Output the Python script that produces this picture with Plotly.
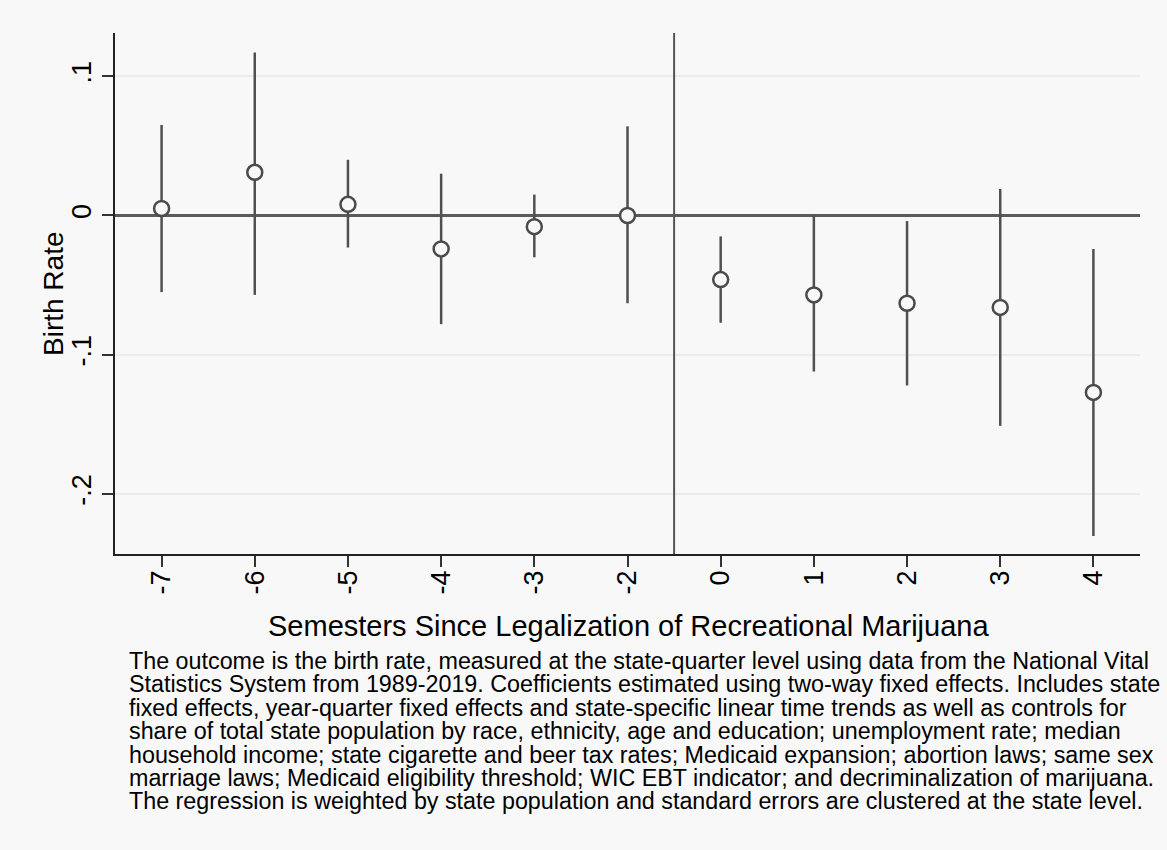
import plotly.graph_objects as go

# Event-study estimates: birth rate relative to legalization of recreational marijuana
semesters = ["-7", "-6", "-5", "-4", "-3", "-2", "0", "1", "2", "3", "4"]
coef = [0.005, 0.031, 0.008, -0.024, -0.008, 0.000, -0.046, -0.057, -0.063, -0.066, -0.127]
ci_low = [-0.055, -0.057, -0.023, -0.078, -0.030, -0.063, -0.077, -0.112, -0.122, -0.151, -0.230]
ci_high = [0.065, 0.117, 0.040, 0.030, 0.015, 0.064, -0.015, 0.000, -0.004, 0.019, -0.024]

y_tickvals = [-0.2, -0.1, 0, 0.1]
y_ticktext = ["-.2", "-.1", "0", ".1"]

note_lines = [
    "The outcome is the birth rate, measured at the state-quarter level using data from the National Vital",
    "Statistics System from 1989-2019. Coefficients estimated using two-way fixed effects. Includes state",
    "fixed effects, year-quarter fixed effects and state-specific linear time trends as well as controls for",
    "share of total state population by race, ethnicity, age and education; unemployment rate; median",
    "household income; state cigarette and beer tax rates; Medicaid expansion; abortion laws; same sex",
    "marriage laws; Medicaid eligibility threshold; WIC EBT indicator; and decriminalization of marijuana.",
    "The regression is weighted by state population and standard errors are clustered at the state level.",
]

FONT = "Liberation Sans, Arial, Helvetica, sans-serif"
BG = "#f8f8f8"
INK = "#4a4a4a"

W, H = 1167, 850
M_L, M_R, M_T, M_B = 115, 27, 33, 296
PLOT_W = W - M_L - M_R
PLOT_H = H - M_T - M_B


def px_x(x):
    return (x - M_L) / PLOT_W


def px_y(y):
    return (H - M_B - y) / PLOT_H


err_plus = [h - c for h, c in zip(ci_high, coef)]
err_minus = [c - l for c, l in zip(coef, ci_low)]

fig = go.Figure()
fig.add_trace(go.Scatter(
    x=semesters,
    y=coef,
    mode="markers",
    marker=dict(size=15, color=BG, line=dict(color=INK, width=2.5)),
    error_y=dict(type="data", array=err_plus, arrayminus=err_minus,
                 symmetric=False, color="#505050", thickness=2.5, width=0),
    showlegend=False,
    hoverinfo="skip",
))

# Vertical separator between pre- and post-legalization periods
fig.add_shape(type="line", xref="x", yref="paper", x0=5.5, x1=5.5, y0=0, y1=1,
              line=dict(color="#555555", width=2), layer="above")

fig.update_xaxes(
    type="category",
    range=[-0.5, 10.5],
    showline=True, linecolor="#222222", linewidth=1.5,
    ticks="outside", ticklen=11, tickwidth=1.5, tickcolor="#333333",
    tickangle=-90, ticklabelstandoff=-7,
    tickfont=dict(family=FONT, size=27, color="#000000"),
    showgrid=False, zeroline=False,
)
fig.update_yaxes(
    range=[-0.243, 0.131],
    tickvals=y_tickvals, ticktext=y_ticktext,
    tickangle=-90,
    showline=True, linecolor="#222222", linewidth=1.5,
    ticks="outside", ticklen=11, tickwidth=1.5, tickcolor="#333333",
    tickfont=dict(family=FONT, size=27, color="#000000"),
    showgrid=True, gridcolor="#ececec", gridwidth=1.5,
    zeroline=True, zerolinecolor="#5a5a5a", zerolinewidth=2.5,
)

annotations = [
    dict(text="Birth Rate", xref="paper", yref="paper",
         x=px_x(53), y=px_y(294), textangle=-90, showarrow=False,
         xanchor="center", yanchor="middle",
         font=dict(family=FONT, size=28, color="#000000")),
    dict(text="Semesters Since Legalization of Recreational Marijuana",
         xref="paper", yref="paper", x=px_x(628), y=px_y(626), showarrow=False,
         xanchor="center", yanchor="middle",
         font=dict(family=FONT, size=29, color="#000000")),
]

first_baseline = 669
line_step = 23.4
for i, line in enumerate(note_lines):
    annotations.append(dict(
        text=line, xref="paper", yref="paper",
        x=px_x(127), y=px_y(first_baseline + i * line_step - 8),
        xanchor="left", yanchor="middle", showarrow=False, align="left",
        font=dict(family=FONT, size=23.3, color="#000000"),
    ))

fig.update_layout(
    width=W, height=H,
    margin=dict(l=M_L, r=M_R, t=M_T, b=M_B, autoexpand=False),
    paper_bgcolor=BG, plot_bgcolor=BG,
    annotations=annotations,
    font=dict(family=FONT),
)

fig.write_html("out.html", include_plotlyjs=True, full_html=True,
               config=dict(displayModeBar=False))
